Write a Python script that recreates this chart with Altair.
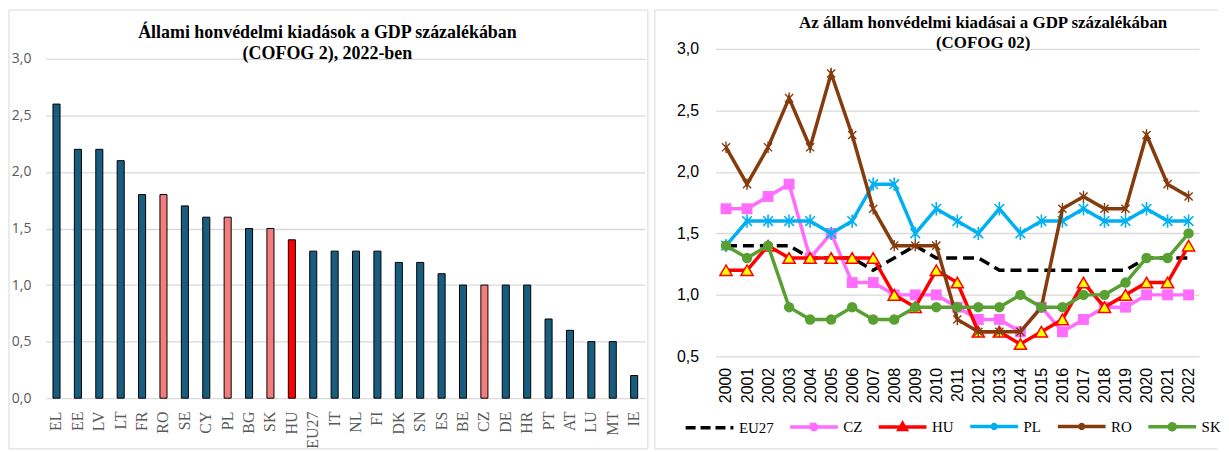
import altair as alt
import pandas as pd

# ---------------- Left chart data ----------------
countries = ["EL", "EE", "LV", "LT", "FR", "RO", "SE", "CY", "PL", "BG", "SK", "HU", "EU27", "IT",
             "NL", "FI", "DK", "SN", "ES", "BE", "CZ", "DE", "HR", "PT", "AT", "LU", "MT", "IE"]
values_2022 = [2.6, 2.2, 2.2, 2.1, 1.8, 1.8, 1.7, 1.6, 1.6, 1.5, 1.5, 1.4, 1.3, 1.3,
               1.3, 1.3, 1.2, 1.2, 1.1, 1.0, 1.0, 1.0, 1.0, 0.7, 0.6, 0.5, 0.5, 0.2]
hatched = ["RO", "PL", "SK", "CZ"]
solid_red = ["HU"]

# ---------------- Right chart data ----------------
years = ["2000", "2001", "2002", "2003", "2004", "2005", "2006", "2007", "2008", "2009", "2010", "2011",
         "2012", "2013", "2014", "2015", "2016", "2017", "2018", "2019", "2020", "2021", "2022"]
series_names = ["EU27", "CZ", "HU", "PL", "RO", "SK"]
eu27 = [1.4, 1.4, 1.4, 1.4, 1.3, 1.3, 1.3, 1.2, 1.3, 1.4, 1.3, 1.3, 1.3, 1.2, 1.2, 1.2, 1.2, 1.2, 1.2, 1.2, 1.3, 1.3, 1.3]
cz = [1.7, 1.7, 1.8, 1.9, 1.3, 1.5, 1.1, 1.1, 1.0, 1.0, 1.0, 0.9, 0.8, 0.8, 0.7, 0.9, 0.7, 0.8, 0.9, 0.9, 1.0, 1.0, 1.0]
hu = [1.2, 1.2, 1.4, 1.3, 1.3, 1.3, 1.3, 1.3, 1.0, 0.9, 1.2, 1.1, 0.7, 0.7, 0.6, 0.7, 0.8, 1.1, 0.9, 1.0, 1.1, 1.1, 1.4]
pl = [1.4, 1.6, 1.6, 1.6, 1.6, 1.5, 1.6, 1.9, 1.9, 1.5, 1.7, 1.6, 1.5, 1.7, 1.5, 1.6, 1.6, 1.7, 1.6, 1.6, 1.7, 1.6, 1.6]
ro = [2.2, 1.9, 2.2, 2.6, 2.2, 2.8, 2.3, 1.7, 1.4, 1.4, 1.4, 0.8, 0.7, 0.7, 0.7, 0.9, 1.7, 1.8, 1.7, 1.7, 2.3, 1.9, 1.8]
sk = [1.4, 1.3, 1.4, 0.9, 0.8, 0.8, 0.9, 0.8, 0.8, 0.9, 0.9, 0.9, 0.9, 0.9, 1.0, 0.9, 0.9, 1.0, 1.0, 1.1, 1.3, 1.3, 1.5]
series_values = [eu27, cz, hu, pl, ro, sk]

def comma(expr_field="datum.value"):
    return f"replace(format({expr_field}, '.1f'), '.', ',')"

# ================= LEFT CHART =================
bar_df = pd.DataFrame({"country": countries, "value": values_2022})
bar_df["group"] = ["hatched" if c in hatched else ("red" if c in solid_red else "base") for c in countries]

W1, H1 = 602, 351
bars = alt.Chart(bar_df).mark_bar(stroke="#000000", strokeWidth=1).encode(
    x=alt.X("country:N", sort=countries,
            scale=alt.Scale(paddingInner=0.67, paddingOuter=0.335),
            axis=alt.Axis(title=None, labelAngle=-90, labelFont="Liberation Serif", labelFontSize=16,
                          labelColor="#595959", labelPadding=13, domain=False, ticks=False, grid=False)),
    y=alt.Y("value:Q", scale=alt.Scale(domain=[0, 3.088], nice=False, zero=True),
            axis=alt.Axis(title=None, values=[0, 0.5, 1.0, 1.5, 2.0, 2.5, 3.0], labelExpr=comma(),
                          labelFont="Open Sans", labelFontSize=14, labelColor="#595959", labelPadding=15,
                          domain=False, ticks=False, gridColor="#d9d9d9", gridWidth=1.3)),
    fill=alt.Fill("group:N", scale=alt.Scale(domain=["base", "hatched", "red"],
                                             range=["#185d7f", "#f37d7d", "#ff0000"]), legend=None),
)
frame1 = alt.Chart(pd.DataFrame({"k": [0]})).mark_rect(filled=False, stroke="#d9d9d9", strokeWidth=1).encode(
    x=alt.value(-37), x2=alt.value(605), y=alt.value(-39), y2=alt.value(402)
)
left = alt.layer(frame1, bars).properties(
    width=W1, height=H1,
    title=alt.Title(["Állami honvédelmi kiadások a GDP százalékában", "(COFOG 2), 2022-ben"],
                    font="Liberation Serif", fontSize=18, fontWeight="bold", color="#000000",
                    anchor="middle", frame="group", dx=-18, offset=-54, lineHeight=21),
)

# ================= RIGHT CHART =================
rows = []
for name, vals in zip(series_names, series_values):
    for yr, v in zip(years, vals):
        rows.append({"year": yr, "series": name, "value": v})
line_df = pd.DataFrame(rows)

W2, H2 = 486, 309
x_enc = alt.X("year:O", sort=years, scale=alt.Scale(type="point", padding=0.5),
              axis=alt.Axis(title=None, labelAngle=-90, labelFont="Liberation Sans", labelFontSize=16,
                            labelColor="#000000", labelPadding=11, domain=False, ticks=False, grid=False))
y_enc = alt.Y("value:Q", scale=alt.Scale(domain=[0.5, 3.0], nice=False, zero=False),
              axis=alt.Axis(title=None, values=[0.5, 1.0, 1.5, 2.0, 2.5, 3.0], labelExpr=comma(),
                            labelFont="Liberation Sans", labelFontSize=16, labelColor="#000000",
                            labelPadding=17, domain=False, ticks=False, gridColor="#d9d9d9", gridWidth=1.3))

colors = {"EU27": "#000000", "CZ": "#ff6dff", "HU": "#ff0000", "PL": "#00b0f0", "RO": "#843c0c", "SK": "#58a032"}
star = "M0,-1V1M-0.72,-0.72L0.72,0.72M-0.72,0.72L0.72,-0.72"

layers = []
for name in series_names:
    base = alt.Chart(line_df).transform_filter(alt.datum.series == name)
    if name == "EU27":
        layers.append(base.mark_line(color=colors[name], strokeWidth=3.5, strokeDash=[11, 6]).encode(x=x_enc, y=y_enc))
        continue
    layers.append(base.mark_line(color=colors[name], strokeWidth=3.5).encode(x=x_enc, y=y_enc))
    if name == "CZ":
        pt = base.mark_point(shape="square", filled=True, size=120, color=colors[name], opacity=1)
    elif name == "HU":
        pt = base.mark_point(shape="triangle-up", filled=True, size=150, fill="#ffff00",
                             stroke="#ff0000", strokeWidth=1.5, opacity=1)
    elif name == "PL":
        pt = base.mark_point(shape=star, filled=False, size=180, stroke=colors[name], strokeWidth=1.6, opacity=1)
    elif name == "RO":
        pt = base.mark_point(shape=star, filled=False, size=130, stroke=colors[name], strokeWidth=1.4, opacity=1)
    else:
        pt = base.mark_point(shape="circle", filled=True, size=110, color=colors[name], opacity=1)
    layers.append(pt.encode(x=x_enc, y=y_enc))

# legend-only layer (custom symbols: line + marker)
legend_paths = [
    "M-4.8,0H4.8",
    "M-4.8,0H4.8M-0.5,-0.5H0.5V0.5H-0.5Z",
    "M-4.8,0H4.8M0,-0.7L0.7,0.5H-0.7Z",
    "M-4.8,0H4.8M0,-0.7V0.7M-0.5,-0.5L0.5,0.5M-0.5,0.5L0.5,-0.5",
    "M-4.8,0H4.8M0,-0.7V0.7M-0.5,-0.5L0.5,0.5M-0.5,0.5L0.5,-0.5",
    "M-4.8,0H4.8M0.6,0A0.6,0.6 0 1,1 -0.6,0A0.6,0.6 0 1,1 0.6,0Z",
]
legend_fills = ["#000000", "#ff6dff", "#ffff00", "#00b0f0", "#843c0c", "#58a032"]
legend_strokes = [colors[n] for n in series_names]
legend_dashes = [[10, 5], [1, 0], [1, 0], [1, 0], [1, 0], [1, 0]]

leg_df = pd.DataFrame({"series": series_names})
legend_layer = alt.Chart(leg_df).mark_point(filled=True, opacity=1).encode(
    shape=alt.Shape("series:N", sort=series_names,
                    scale=alt.Scale(domain=series_names, range=legend_paths),
                    legend=alt.Legend(title=None, orient="none", legendX=643, legendY=372,
                                      direction="horizontal", symbolSize=100, symbolStrokeWidth=3.5,
                                      symbolOffset=16.5, labelOffset=22, columnPadding=9,
                                      labelFont="Liberation Serif", labelFontSize=15, labelColor="#000000",
                                      padding=0)),
    fill=alt.Fill("series:N", sort=series_names, scale=alt.Scale(domain=series_names, range=legend_fills)),
    stroke=alt.Stroke("series:N", sort=series_names, scale=alt.Scale(domain=series_names, range=legend_strokes)),
    strokeDash=alt.StrokeDash("series:N", sort=series_names, scale=alt.Scale(domain=series_names, range=legend_dashes)),
).transform_filter("false")

frame2 = alt.Chart(pd.DataFrame({"k": [0]}))
frame2_top = frame2.mark_rule(color="#d9d9d9", strokeWidth=1).encode(x=alt.value(-61), x2=alt.value(505), y=alt.value(-39))
frame2_left = frame2.mark_rule(color="#d9d9d9", strokeWidth=1).encode(x=alt.value(-61), y=alt.value(-39), y2=alt.value(402))
frame2_bottom = frame2.mark_rule(color="#d9d9d9", strokeWidth=1).encode(x=alt.value(-61), x2=alt.value(505), y=alt.value(402))

right = alt.layer(frame2_top, frame2_left, frame2_bottom, *layers, legend_layer).properties(
    width=W2, height=H2,
    title=alt.Title(["Az állam honvédelmi kiadásai a GDP százalékában", "(COFOG 02)"],
                    font="Liberation Serif", fontSize=17, fontWeight="bold", color="#000000",
                    anchor="middle", frame="group", dx=26, offset=-43, lineHeight=20),
)

chart = alt.hconcat(left, right, spacing=5).properties(padding=0).configure_view(stroke=None)
chart.save("out.html", embed_options={"renderer": "svg", "actions": False})
